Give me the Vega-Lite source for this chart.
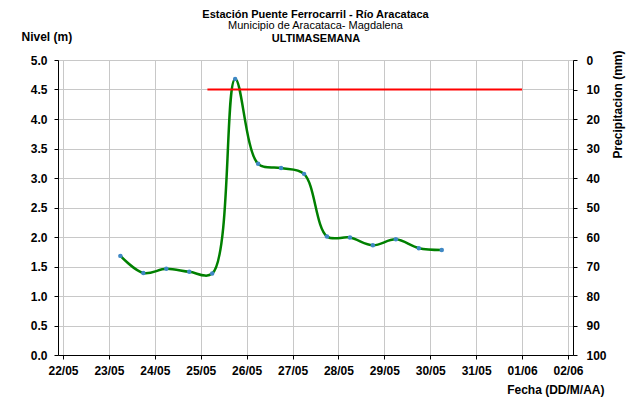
{
  "$schema": "https://vega.github.io/schema/vega-lite/v6.json",
  "width": 515,
  "height": 295,
  "autosize": {"type": "none"},
  "padding": {"left": 58, "top": 60, "right": 60, "bottom": 48},
  "background": "white",
  "title": {
    "text": "Estación Puente Ferrocarril - Río Aracataca",
    "subtitle": "Municipio de Aracataca- Magdalena",
    "font": "Liberation Sans",
    "fontSize": 11,
    "fontWeight": "bold",
    "color": "black",
    "subtitleFont": "Liberation Sans",
    "subtitleFontSize": 11,
    "subtitleFontWeight": "normal",
    "subtitleColor": "black",
    "subtitlePadding": 0,
    "anchor": "middle",
    "frame": "group",
    "offset": -1
  },
  "datasets": {
    "nivel": [
      {"fecha": "2010-05-23T06:00:00", "nivel": 1.68},
      {"fecha": "2010-05-23T18:00:00", "nivel": 1.39},
      {"fecha": "2010-05-24T06:00:00", "nivel": 1.46},
      {"fecha": "2010-05-24T18:00:00", "nivel": 1.41},
      {"fecha": "2010-05-25T06:00:00", "nivel": 1.38},
      {"fecha": "2010-05-25T18:00:00", "nivel": 4.68},
      {"fecha": "2010-05-26T06:00:00", "nivel": 3.24},
      {"fecha": "2010-05-26T18:00:00", "nivel": 3.17},
      {"fecha": "2010-05-27T06:00:00", "nivel": 3.07},
      {"fecha": "2010-05-27T18:00:00", "nivel": 2.01},
      {"fecha": "2010-05-28T06:00:00", "nivel": 1.99},
      {"fecha": "2010-05-28T18:00:00", "nivel": 1.86},
      {"fecha": "2010-05-29T06:00:00", "nivel": 1.96},
      {"fecha": "2010-05-29T18:00:00", "nivel": 1.81},
      {"fecha": "2010-05-30T06:00:00", "nivel": 1.78}
    ],
    "umbral": [
      {"fecha": "2010-05-25T03:30:00", "fecha_fin": "2010-06-01T00:00:00", "nivel": 4.5}
    ],
    "precipitacion": []
  },
  "layer": [
    {
      "encoding": {
        "x": {
          "field": "fecha",
          "type": "temporal",
          "scale": {"domain": [{"year": 2010, "month": 5, "date": 22}, {"year": 2010, "month": 6, "date": 2}]},
          "axis": {
            "values": [
              {"year": 2010, "month": 5, "date": 22},
              {"year": 2010, "month": 5, "date": 23},
              {"year": 2010, "month": 5, "date": 24},
              {"year": 2010, "month": 5, "date": 25},
              {"year": 2010, "month": 5, "date": 26},
              {"year": 2010, "month": 5, "date": 27},
              {"year": 2010, "month": 5, "date": 28},
              {"year": 2010, "month": 5, "date": 29},
              {"year": 2010, "month": 5, "date": 30},
              {"year": 2010, "month": 5, "date": 31},
              {"year": 2010, "month": 6, "date": 1},
              {"year": 2010, "month": 6, "date": 2}
            ],
            "format": "%d/%m",
            "labelAngle": 0,
            "labelOverlap": false,
            "tickSize": 4,
            "labelPadding": 6,
            "grid": true,
            "title": "Fecha (DD/M/AA)",
            "titleAlign": "right",
            "titleX": 546,
            "titleY": 38,
            "titleBaseline": "alphabetic"
          }
        },
        "y": {
          "field": "nivel",
          "type": "quantitative",
          "scale": {"domain": [0, 5]},
          "axis": {
            "values": [0, 0.5, 1, 1.5, 2, 2.5, 3, 3.5, 4, 4.5, 5],
            "format": ".1f",
            "labelOverlap": false,
            "tickSize": 4,
            "labelPadding": 7,
            "grid": true,
            "title": "Nivel (m)",
            "titleAngle": 0,
            "titleAlign": "left",
            "titleX": -37,
            "titleY": -20,
            "titleBaseline": "alphabetic"
          }
        }
      },
      "layer": [
        {
          "data": {"name": "nivel"},
          "mark": {"type": "line", "interpolate": "catmull-rom", "color": "#008000", "strokeWidth": 2.5}
        },
        {
          "data": {"name": "umbral"},
          "mark": {"type": "rule", "color": "#ff0000", "strokeWidth": 2},
          "encoding": {
            "x2": {"field": "fecha_fin"}
          }
        },
        {
          "data": {"name": "nivel"},
          "mark": {"type": "point", "filled": true, "color": "#3f88c5", "size": 20, "opacity": 1}
        }
      ]
    },
    {
      "data": {"name": "precipitacion"},
      "mark": {"type": "bar", "color": "#4a8fc0"},
      "encoding": {
        "x": {
          "field": "fecha",
          "type": "temporal",
          "axis": {
            "orient": "top",
            "labels": false,
            "ticks": false,
            "domain": false,
            "grid": false,
            "title": "ULTIMASEMANA",
            "titleFontSize": 11,
            "titleBaseline": "alphabetic",
            "titleY": -19
          }
        },
        "y": {
          "field": "precipitacion",
          "type": "quantitative",
          "scale": {"domain": [0, 100], "reverse": true},
          "axis": {
            "orient": "right",
            "values": [0, 10, 20, 30, 40, 50, 60, 70, 80, 90, 100],
            "labelOverlap": false,
            "tickSize": 4,
            "labelPadding": 9,
            "grid": false,
            "title": "Precipitacion (mm)",
            "titleAngle": 270,
            "titleAlign": "right",
            "titleX": 44,
            "titleY": -10,
            "titleBaseline": "middle"
          }
        }
      }
    }
  ],
  "resolve": {
    "scale": {"y": "independent"},
    "axis": {"x": "independent", "y": "independent"}
  },
  "config": {
    "view": {"stroke": "#a6a6a6", "strokeWidth": 1},
    "axis": {
      "labelFont": "Liberation Sans",
      "labelFontSize": 12,
      "labelFontWeight": "bold",
      "labelColor": "black",
      "titleFont": "Liberation Sans",
      "titleFontSize": 12,
      "titleFontWeight": "bold",
      "titleColor": "black",
      "domainColor": "black",
      "domainWidth": 1,
      "tickColor": "black",
      "gridColor": "#c8c8c8",
      "gridWidth": 1
    }
  }
}
